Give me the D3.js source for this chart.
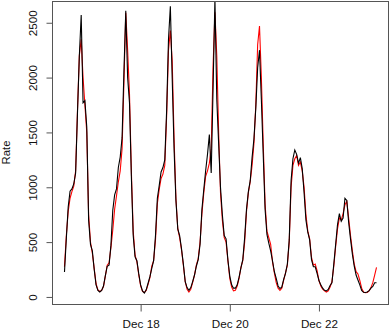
<!DOCTYPE html>
<html>
<head>
<meta charset="utf-8">
<script src="https://cdn.jsdelivr.net/npm/d3@7"></script>
<style>
  body { margin: 0; background: #fff; }
  svg { display: block; }
  text { font-family: "Liberation Sans", Arial, sans-serif; font-size: 11.7px; fill: #111; }
</style>
</head>
<body>
<svg width="390" height="333"></svg>
<script>
// hourly series, first value at Dec 16 07:00
var startTime = Date.UTC(2012, 11, 16, 7);

// black line: observed rate
var observed = [
  228, 535, 820, 965, 985, 1030, 1130, 1680, 2200, 2570, 1770, 1790, 1550, 700, 480, 420, 250,
  110, 60, 45, 60, 100, 195, 280, 290, 470, 790, 930, 985, 1180, 1275, 1450, 2050, 2610, 2000,
  1770, 1100, 560, 365, 330, 210,
  110, 55, 36, 65, 125, 185, 260, 330, 560, 900, 1015, 1140, 1180, 1250, 1700, 2350, 2650, 1990,
  1350, 880, 620, 560, 440, 300,
  140, 85, 61, 85, 140, 200, 280, 340, 480, 800, 980, 1150, 1300, 1480, 1130, 1900, 2720, 1800,
  1400, 1000, 750, 560, 530, 335,
  190, 110, 80, 80, 110, 180, 265, 340, 540, 800, 960, 1060, 1270, 1440, 1720, 2090, 2250, 1800,
  1300, 800, 570, 490, 420, 330,
  230, 170, 100, 77, 90, 160, 215, 300, 520, 1060, 1260, 1340, 1300, 1220, 1270, 1170, 950, 700,
  590, 520, 340, 275, 275, 215,
  150, 110, 80, 61, 55, 68, 105, 130, 300, 480, 660, 760, 690, 720, 900, 880, 680, 530,
  390, 280, 200, 155, 110, 60,
  42, 40, 45, 58, 80, 95, 130, 130
];

// red line: fitted rate
var fitted = [
  275, 560, 780, 900, 960, 1010, 1150, 1700, 2200, 2350, 2000, 1750, 1500, 750, 500, 400, 260,
  120, 65, 50, 60, 95, 190, 290, 310, 450, 610, 800, 920, 1050, 1150, 1350, 1950, 2590, 2250,
  1850, 1150, 600, 380, 320, 200,
  100, 50, 40, 60, 115, 175, 280, 330, 520, 850, 980, 1080, 1120, 1200, 1650, 2250, 2430, 2150,
  1450, 900, 620, 540, 430, 290,
  140, 70, 45, 70, 130, 200, 290, 350, 500, 760, 950, 1100, 1150, 1220, 1350, 2100, 2596, 2200,
  1500, 950, 700, 540, 500, 330,
  170, 90, 55, 60, 100, 170, 270, 330, 500, 780, 950, 1050, 1200, 1400, 1750, 2300, 2470, 2000,
  1400, 850, 600, 540, 480, 320,
  220, 130, 80, 60, 80, 150, 220, 290, 500, 1000, 1200, 1260, 1290, 1200, 1230, 1150, 1000, 750,
  600, 530, 360, 290, 300, 240,
  150, 100, 70, 55, 45, 55, 90, 140, 280, 460, 620, 720, 700, 760, 840, 870, 720, 560,
  420, 300, 230, 210, 150, 80,
  45, 38, 40, 55, 85, 130, 200, 270
];

var tickDates = ["2012-12-18", "2012-12-20", "2012-12-22"];
var tickLabels = ["Dec 18", "Dec 20", "Dec 22"];
var yTicks = [0, 500, 1000, 1500, 2000, 2500];

var svg = d3.select("svg");
var plotLeft = 52, plotRight = 389, plotTop = 1, plotBottom = 304;

function times(arr) {
  return arr.map(function (v, i) { return { t: new Date(startTime + i * 3600000), v: v }; });
}
var obsData = times(observed);
var fitData = times(fitted);

// R style 4% padding on both axes
var tExt = d3.extent(obsData, function (d) { return d.t; });
var tPad = (tExt[1] - tExt[0]) * 0.04;
var x = d3.scaleUtc()
  .domain([new Date(+tExt[0] - tPad), new Date(+tExt[1] + tPad)])
  .range([plotLeft, plotRight]);

var yExt = d3.extent(fitted);
var yPad = (yExt[1] - yExt[0]) * 0.04;
var y = d3.scaleLinear()
  .domain([yExt[0] - yPad, yExt[1] + yPad])
  .range([plotBottom, plotTop]);

svg.append("clipPath").attr("id", "clip")
  .append("rect")
  .attr("x", plotLeft).attr("y", plotTop)
  .attr("width", plotRight - plotLeft).attr("height", plotBottom - plotTop);

var line = d3.line()
  .x(function (d) { return x(d.t); })
  .y(function (d) { return y(d.v); });

var plot = svg.append("g").attr("clip-path", "url(#clip)");

plot.append("path")
  .datum(fitData)
  .attr("d", line)
  .attr("fill", "none")
  .attr("stroke", "#ff0000")
  .attr("stroke-width", 1.1);

plot.append("path")
  .datum(obsData)
  .attr("d", line)
  .attr("fill", "none")
  .attr("stroke", "#000")
  .attr("stroke-width", 1.1);

// box
svg.append("rect")
  .attr("x", plotLeft + 0.5).attr("y", plotTop + 0.5)
  .attr("width", plotRight - plotLeft - 1).attr("height", plotBottom - plotTop)
  .attr("fill", "none")
  .attr("stroke", "#555");

// y axis
var yAxis = d3.axisLeft(y).tickValues(yTicks).tickSize(6).tickFormat(d3.format("d"));
var gy = svg.append("g").attr("transform", "translate(" + (plotLeft + 0.5) + ",0)").call(yAxis);
gy.select(".domain").remove();
gy.selectAll(".tick line").attr("stroke", "#555");
gy.selectAll(".tick text")
  .attr("x", null).attr("dy", null)
  .attr("transform", "translate(-16,0) rotate(-90)")
  .attr("text-anchor", "middle")
  .attr("fill", "#111")
  .style("font-size", "11.7px")
  .style("font-family", "'Liberation Sans', Arial, sans-serif");

// x axis
var xTickVals = tickDates.map(function (s) { return new Date(s + "T00:00:00Z"); });
var xAxis = d3.axisBottom(x).tickValues(xTickVals).tickSize(7)
  .tickFormat(function (d, i) { return tickLabels[i]; });
var gx = svg.append("g").attr("transform", "translate(0," + (plotBottom + 0.5) + ")").call(xAxis);
gx.select(".domain").remove();
gx.selectAll(".tick line").attr("stroke", "#555");
gx.selectAll(".tick text")
  .attr("y", 23.5).attr("dy", null)
  .attr("fill", "#111")
  .style("font-size", "11.7px")
  .style("font-family", "'Liberation Sans', Arial, sans-serif");

// y title
svg.append("text")
  .attr("transform", "translate(10," + ((plotTop + plotBottom) / 2) + ") rotate(-90)")
  .attr("text-anchor", "middle")
  .style("font-size", "11.3px")
  .text("Rate");
</script>
</body>
</html>
